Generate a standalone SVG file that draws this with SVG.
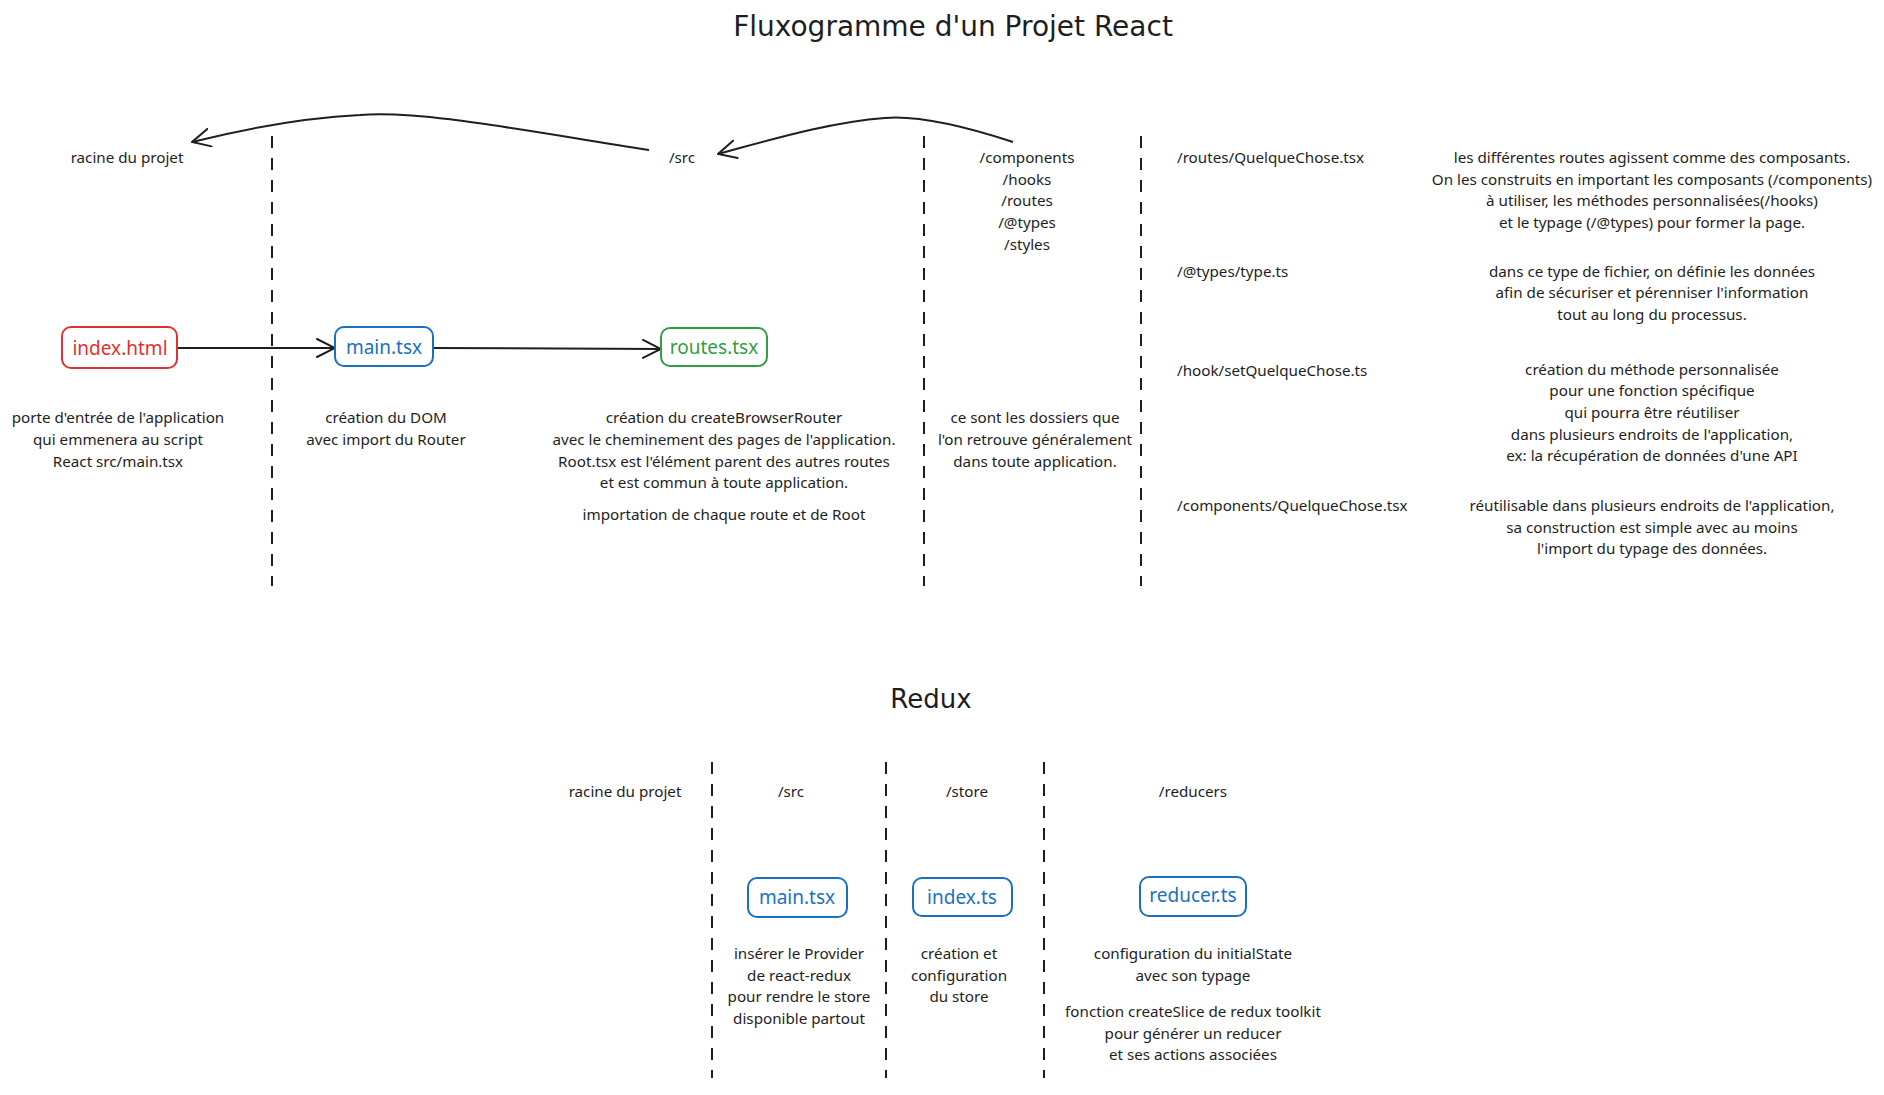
<svg xmlns="http://www.w3.org/2000/svg" width="1884" height="1095" viewBox="0 0 1884 1095">
<defs>
<marker id="ah" viewBox="0 0 20 20" refX="19" refY="10" markerWidth="20" markerHeight="20" markerUnits="userSpaceOnUse" orient="auto">
<path d="M1,1 L19,10 L1,19" fill="none" stroke="#1e1e1e" stroke-width="2" stroke-linecap="round"/>
</marker>
<style>
.t{font-family:"Noto Sans","Liberation Sans",sans-serif;font-size:15.2px;fill:#1e1e1e}
.c{text-anchor:middle}
.h{font-family:"Comic Sans MS","DejaVu Sans",sans-serif;fill:#1e1e1e;text-anchor:middle}
.dash{stroke:#1e1e1e;stroke-width:2;stroke-dasharray:12 10;fill:none}
.box{fill:#fff;stroke-width:2}
.lbl{font-family:"Noto Sans","Liberation Sans",sans-serif;font-size:19px;text-anchor:middle}
.conn{stroke:#1e1e1e;stroke-width:2;fill:none}
</style>
</defs>
<rect width="1884" height="1095" fill="#fff"/>
<text class="h" x="953" y="36" font-size="28">Fluxogramme d'un Projet React</text>
<text class="h" x="931" y="708" font-size="26">Redux</text>

<g id="dividers">
<line class="dash" x1="272" y1="136" x2="272" y2="586"/>
<line class="dash" x1="924" y1="136" x2="924" y2="586"/>
<line class="dash" x1="1141" y1="136" x2="1141" y2="586"/>
<line class="dash" x1="712" y1="762" x2="712" y2="1078"/>
<line class="dash" x1="886" y1="762" x2="886" y2="1078"/>
<line class="dash" x1="1044" y1="762" x2="1044" y2="1078"/>
</g>

<g id="connectors">
<path class="conn" d="M177,348 L335,348" marker-end="url(#ah)"/>
<path class="conn" d="M433,348 L661,349" marker-end="url(#ah)"/>
<path class="conn" d="M649,150 C520,130 420,110 360,115 C300,118 240,130 192,142" marker-end="url(#ah)"/>
<path class="conn" d="M1013,142 C970,128 920,115 885,118 C830,122 770,140 718,154" marker-end="url(#ah)"/>
</g>

<g id="index-html">
<rect class="box" x="62" y="327" width="115" height="41" rx="9" stroke="#e03131"/>
<text class="lbl" x="120" y="355" fill="#e03131">index.html</text>
</g>
<g id="main-tsx">
<rect class="box" x="335" y="327" width="98" height="39" rx="9" stroke="#1971c2"/>
<text class="lbl" x="384" y="354" fill="#1971c2">main.tsx</text>
</g>
<g id="routes-tsx">
<rect class="box" x="661" y="328" width="106" height="38" rx="9" stroke="#2f9e44"/>
<text class="lbl" x="714" y="354" fill="#2f9e44">routes.tsx</text>
</g>
<g id="redux-main-tsx">
<rect class="box" x="748" y="878" width="99" height="39" rx="9" stroke="#1971c2"/>
<text class="lbl" x="797" y="904" fill="#1971c2">main.tsx</text>
</g>
<g id="redux-index-ts">
<rect class="box" x="913" y="878" width="99" height="38" rx="9" stroke="#1971c2"/>
<text class="lbl" x="962" y="904" fill="#1971c2">index.ts</text>
</g>
<g id="redux-reducer-ts">
<rect class="box" x="1140" y="877" width="106" height="39" rx="9" stroke="#1971c2"/>
<text class="lbl" x="1193" y="902" fill="#1971c2">reducer.ts</text>
</g>

<g id="labels">
<text class="t c" x="127" y="163">racine du projet</text>
<text class="t c" x="682" y="163">/src</text>
<text class="t c" x="1027" y="163">/components</text>
<text class="t c" x="1027" y="185">/hooks</text>
<text class="t c" x="1027" y="206">/routes</text>
<text class="t c" x="1027" y="228">/@types</text>
<text class="t c" x="1027" y="250">/styles</text>

<text class="t" x="1177" y="163">/routes/QuelqueChose.tsx</text>
<text class="t" x="1177" y="277">/@types/type.ts</text>
<text class="t" x="1177" y="376">/hook/setQuelqueChose.ts</text>
<text class="t" x="1177" y="511">/components/QuelqueChose.tsx</text>

<text class="t c" x="1652" y="163">les différentes routes agissent comme des composants.</text>
<text class="t c" x="1652" y="185">On les construits en important les composants (/components)</text>
<text class="t c" x="1652" y="206">à utiliser, les méthodes personnalisées(/hooks)</text>
<text class="t c" x="1652" y="228">et le typage (/@types) pour former la page.</text>

<text class="t c" x="1652" y="277">dans ce type de fichier, on définie les données</text>
<text class="t c" x="1652" y="298">afin de sécuriser et pérenniser l'information</text>
<text class="t c" x="1652" y="320">tout au long du processus.</text>

<text class="t c" x="1652" y="375">création du méthode personnalisée</text>
<text class="t c" x="1652" y="396">pour une fonction spécifique</text>
<text class="t c" x="1652" y="418">qui pourra être réutiliser</text>
<text class="t c" x="1652" y="440">dans plusieurs endroits de l'application,</text>
<text class="t c" x="1652" y="461">ex: la récupération de données d'une API</text>

<text class="t c" x="1652" y="511">réutilisable dans plusieurs endroits de l'application,</text>
<text class="t c" x="1652" y="533">sa construction est simple avec au moins</text>
<text class="t c" x="1652" y="554">l'import du typage des données.</text>

<text class="t c" x="118" y="423">porte d'entrée de l'application</text>
<text class="t c" x="118" y="445">qui emmenera au script</text>
<text class="t c" x="118" y="467">React src/main.tsx</text>

<text class="t c" x="386" y="423">création du DOM</text>
<text class="t c" x="386" y="445">avec import du Router</text>

<text class="t c" x="724" y="423">création du createBrowserRouter</text>
<text class="t c" x="724" y="445">avec le cheminement des pages de l'application.</text>
<text class="t c" x="724" y="467">Root.tsx est l'élément parent des autres routes</text>
<text class="t c" x="724" y="488">et est commun à toute application.</text>
<text class="t c" x="724" y="520">importation de chaque route et de Root</text>

<text class="t c" x="1035" y="423">ce sont les dossiers que</text>
<text class="t c" x="1035" y="445">l'on retrouve généralement</text>
<text class="t c" x="1035" y="467">dans toute application.</text>

<text class="t c" x="625" y="797">racine du projet</text>
<text class="t c" x="791" y="797">/src</text>
<text class="t c" x="967" y="797">/store</text>
<text class="t c" x="1193" y="797">/reducers</text>

<text class="t c" x="799" y="959">insérer le Provider</text>
<text class="t c" x="799" y="981">de react-redux</text>
<text class="t c" x="799" y="1002">pour rendre le store</text>
<text class="t c" x="799" y="1024">disponible partout</text>

<text class="t c" x="959" y="959">création et</text>
<text class="t c" x="959" y="981">configuration</text>
<text class="t c" x="959" y="1002">du store</text>

<text class="t c" x="1193" y="959">configuration du initialState</text>
<text class="t c" x="1193" y="981">avec son typage</text>
<text class="t c" x="1193" y="1017">fonction createSlice de redux toolkit</text>
<text class="t c" x="1193" y="1039">pour générer un reducer</text>
<text class="t c" x="1193" y="1060">et ses actions associées</text>
</g>
</svg>
